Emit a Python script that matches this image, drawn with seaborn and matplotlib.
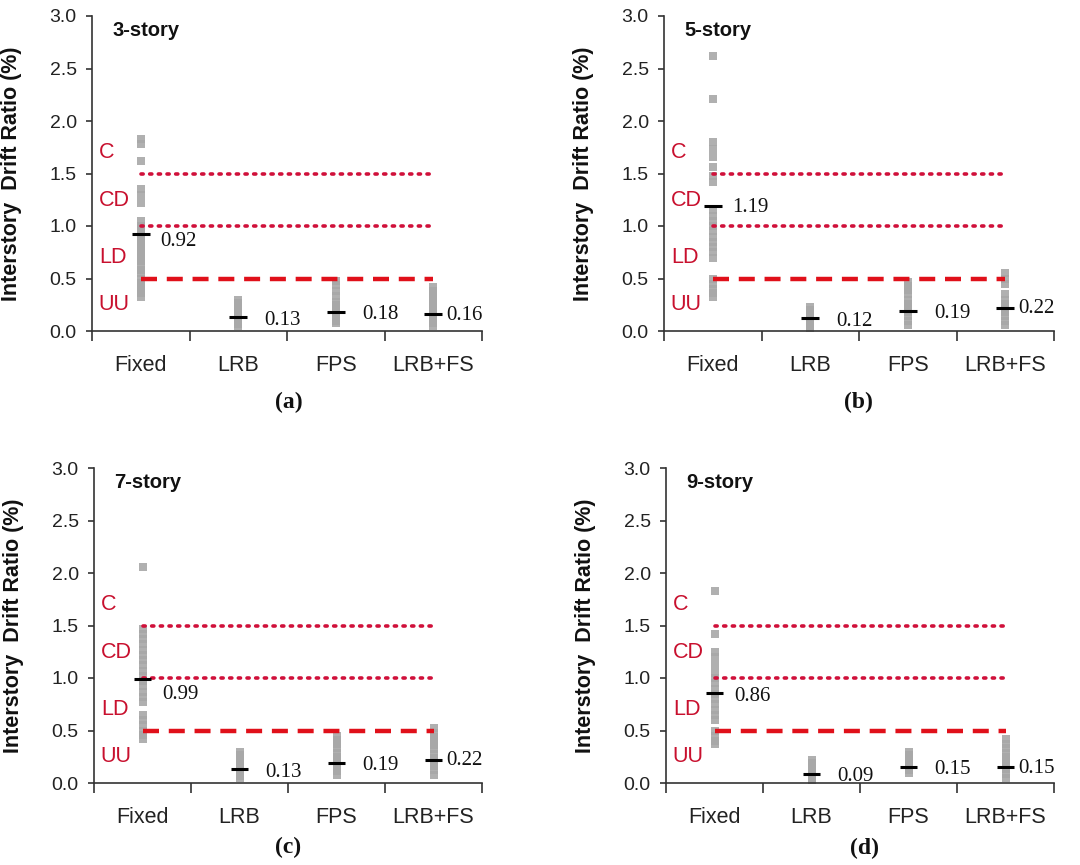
import numpy as np
import pandas as pd
import matplotlib
matplotlib.use("Agg")
import matplotlib.pyplot as plt
import seaborn as sns

# ---------------- data ----------------
CATEGORIES = ["Fixed", "LRB", "FPS", "LRB+FS"]
STORIES = ["3-story", "5-story", "7-story", "9-story"]
PANEL_TAGS = ["(a)", "(b)", "(c)", "(d)"]

fixed_3 = [1.83, 1.78, 1.62, 1.35, 1.30, 1.22, 1.05, 1.00, 0.97, 0.94, 0.90, 0.87,
           0.84, 0.80, 0.77, 0.74, 0.70, 0.67, 0.62, 0.58, 0.55, 0.50, 0.46, 0.43,
           0.40, 0.36, 0.32]
lrb_3 = [0.30, 0.27, 0.24, 0.21, 0.18, 0.15, 0.13, 0.11, 0.09, 0.07, 0.05]
fps_3 = [0.48, 0.44, 0.38, 0.33, 0.28, 0.25, 0.22, 0.19, 0.17, 0.15, 0.12, 0.10, 0.08]
lrbfs_3 = [0.42, 0.38, 0.35, 0.32, 0.29, 0.26, 0.23, 0.20, 0.17, 0.14, 0.11, 0.08, 0.05]

fixed_5 = [2.62, 2.21, 1.80, 1.73, 1.66, 1.56, 1.48, 1.42, 1.15, 1.10, 1.05, 1.00,
           0.95, 0.90, 0.85, 0.80, 0.75, 0.70, 0.50, 0.45, 0.40, 0.36, 0.32]
lrb_5 = [0.23, 0.20, 0.17, 0.14, 0.11, 0.08, 0.05, 0.03]
fps_5 = [0.47, 0.43, 0.39, 0.35, 0.30, 0.26, 0.22, 0.18, 0.14, 0.10, 0.06]
lrbfs_5 = [0.55, 0.50, 0.45, 0.35, 0.30, 0.26, 0.22, 0.18, 0.14, 0.10, 0.06]

fixed_7 = [2.06, 1.47, 1.42, 1.37, 1.32, 1.27, 1.22, 1.17, 1.12, 1.07, 1.02, 0.97,
           0.92, 0.87, 0.82, 0.77, 0.65, 0.60, 0.55, 0.50, 0.46, 0.42]
lrb_7 = [0.30, 0.27, 0.24, 0.21, 0.18, 0.15, 0.12, 0.09, 0.07, 0.05]
fps_7 = [0.45, 0.41, 0.37, 0.33, 0.29, 0.25, 0.21, 0.18, 0.15, 0.11, 0.08]
lrbfs_7 = [0.52, 0.48, 0.44, 0.40, 0.36, 0.32, 0.28, 0.24, 0.20, 0.16, 0.12, 0.08]

fixed_9 = [1.83, 1.42, 1.25, 1.20, 1.12, 1.05, 1.00, 0.95, 0.90, 0.85, 0.80, 0.75,
           0.70, 0.65, 0.60, 0.50, 0.45, 0.40, 0.37]
lrb_9 = [0.22, 0.19, 0.16, 0.13, 0.10, 0.07, 0.04, 0.02]
fps_9 = [0.30, 0.27, 0.24, 0.21, 0.18, 0.15, 0.12, 0.10]
lrbfs_9 = [0.42, 0.37, 0.33, 0.29, 0.25, 0.21, 0.17, 0.13, 0.09, 0.05]

means_3 = [0.92, 0.13, 0.18, 0.16]
means_5 = [1.19, 0.12, 0.19, 0.22]
means_7 = [0.99, 0.13, 0.19, 0.22]
means_9 = [0.86, 0.09, 0.15, 0.15]

ZONE_NAMES = ["C", "CD", "LD", "UU"]
DOTTED_LIMITS = [1.5, 1.0]
DASHED_LIMIT = 0.5

panels = [
    (fixed_3, lrb_3, fps_3, lrbfs_3, means_3),
    (fixed_5, lrb_5, fps_5, lrbfs_5, means_5),
    (fixed_7, lrb_7, fps_7, lrbfs_7, means_7),
    (fixed_9, lrb_9, fps_9, lrbfs_9, means_9),
]

# ---------------- style ----------------
sns.set_theme(style="ticks")
plt.rcParams["font.family"] = ["Liberation Sans", "DejaVu Sans"]

W, H = 1080, 865
fig = plt.figure(figsize=(W / 100, H / 100), dpi=100)

# axes boxes in pixels: left, top, right, bottom
boxes = [(92, 16, 482, 331), (664, 16, 1054, 331),
         (94, 468, 482, 783), (666, 468, 1054, 783)]
tag_pos = [(1.52, 402), (1.49, 402), (1.5, 847), (1.55, 848)]

ZONE_Y = [1.70, 1.24, 0.70, 0.25]
LABEL_DX = [0.20, 0.27, 0.27, 0.13]
LABEL_DY = [-0.06, -0.03, -0.02, -0.01]
LABEL_DY_FIXED = [-0.07, -0.01, -0.15, -0.04]

red_dot = "#d0103a"
red_dash = "#e0101a"
zone_col = "#c8102e"
dot_col = "#a8a8a8"
spine_col = "#333333"

for i, (fx, lr, fp, lf, means) in enumerate(panels):
    l, t, r, b = boxes[i]
    ax = fig.add_axes([l / W, 1 - b / H, (r - l) / W, (b - t) / H])

    df = pd.DataFrame({
        "system": (["Fixed"] * len(fx) + ["LRB"] * len(lr) +
                   ["FPS"] * len(fp) + ["LRB+FS"] * len(lf)),
        "drift": fx + lr + fp + lf,
    })
    sns.stripplot(data=df, x="system", y="drift", order=CATEGORIES, jitter=False,
                  marker="s", s=5.5, color=dot_col, linewidth=0, alpha=0.9,
                  ax=ax, zorder=2)

    xs = np.arange(len(CATEGORIES))
    # limit-state lines
    for lim in DOTTED_LIMITS:
        ax.plot([xs[0], xs[-1]], [lim, lim], color=red_dot, lw=2.6,
                linestyle=(0, (0.6, 1.8)), dash_capstyle="round", zorder=3)
    ax.plot([xs[0], xs[-1]], [DASHED_LIMIT, DASHED_LIMIT], color=red_dash, lw=3.2,
            linestyle=(0, (3.6, 2.2)), zorder=3)

    # mean markers and labels
    ax.hlines(means, xs - 0.09, xs + 0.09, color="black", lw=2.2, zorder=4)
    for k, m in enumerate(means):
        dy = LABEL_DY_FIXED[i] if k == 0 else LABEL_DY[k]
        ax.text(xs[k] + LABEL_DX[k], m + dy, f"{m:.2f}",
                family=["Liberation Serif", "DejaVu Serif"], fontsize=15,
                ha="left", va="center", color="#111111")

    # zone labels
    for name, zy in zip(ZONE_NAMES, ZONE_Y):
        ax.text(-0.43, zy, name, color=zone_col, fontsize=15.5, ha="left", va="center")

    ax.text(-0.29, 2.86, STORIES[i], fontsize=14.5, fontweight="bold",
            ha="left", va="center", color="#111111")

    ax.set_xlim(-0.5, 3.5)
    ax.set_ylim(0, 3.0)
    ax.set_yticks(np.arange(0, 3.01, 0.5))
    ax.set_yticklabels([f"{v:.1f}" for v in np.arange(0, 3.01, 0.5)])
    ax.set_xticks([-0.5, 0.5, 1.5, 2.5, 3.5])
    ax.set_xticklabels([])
    ax.set_xticks(xs, minor=True)
    ax.set_xticklabels(CATEGORIES, minor=True)
    ax.tick_params(axis="x", which="major", length=7, width=1.2, color=spine_col)
    ax.tick_params(axis="x", which="minor", length=0, pad=17, labelsize=15.5,
                   labelcolor="#222222")
    ax.tick_params(axis="y", length=4, width=1.2, color=spine_col, pad=7,
                   labelsize=14, labelcolor="#222222")
    ax.set_xlabel("")
    ax.set_ylabel("Interstory  Drift Ratio (%)", fontsize=15.5, fontweight="bold",
                  color="#111111")
    ax.yaxis.set_label_coords(-70 / (r - l), 0.5)
    sns.despine(ax=ax)
    for sp in ("left", "bottom"):
        ax.spines[sp].set_color(spine_col)
        ax.spines[sp].set_linewidth(1.2)

    tx, ty = tag_pos[i]
    ax.text(tx, 3.0 * (b - ty) / (b - t), PANEL_TAGS[i],
            family=["Liberation Serif", "DejaVu Serif"], fontsize=17,
            fontweight="bold", ha="center", va="center", color="#111111",
            clip_on=False)

fig.savefig("out.png", dpi=100, facecolor="white")
